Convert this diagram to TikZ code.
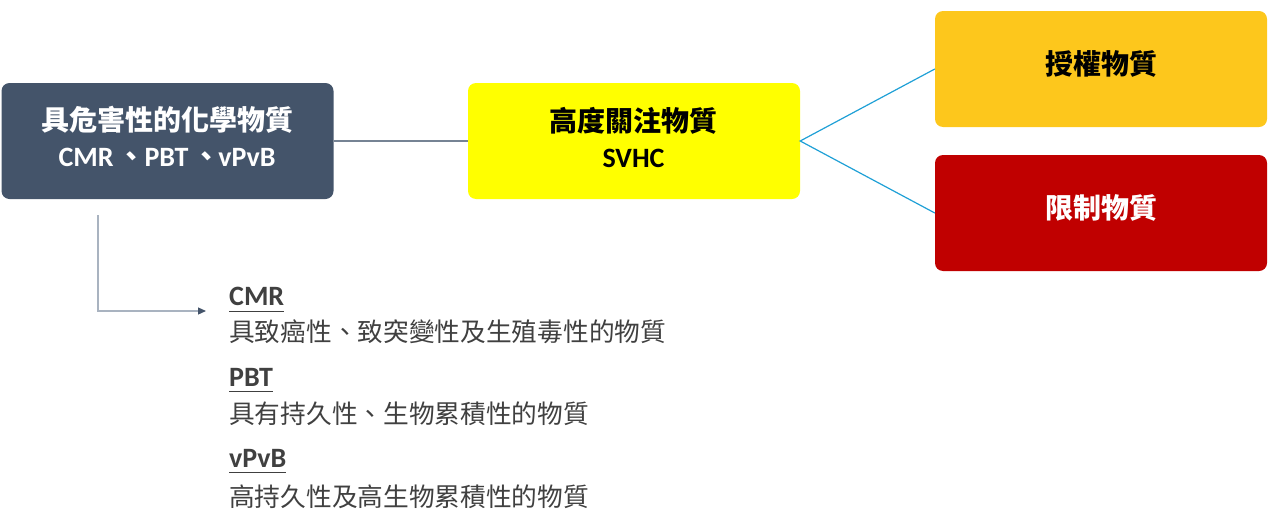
\documentclass[tikz,border=0pt]{standalone}
\usepackage{fontspec}
\setmainfont{Carlito}
\newfontfamily\cjk{Noto Sans CJK TC}
\usetikzlibrary{arrows.meta}
\definecolor{slate}{HTML}{44546A}
\definecolor{svhcY}{HTML}{FFFF00}
\definecolor{authO}{HTML}{FDC71C}
\definecolor{restrR}{HTML}{C00000}
\definecolor{linkB}{HTML}{1FA0D6}
\definecolor{txtG}{HTML}{404040}
\definecolor{lineG}{HTML}{768394}
\definecolor{elbowG}{HTML}{A9B3C0}
\begin{document}
\begin{tikzpicture}[x=1pt,y=-1pt,
  box/.style={rounded corners=8pt, minimum width=332pt, minimum height=116pt, inner sep=0pt},
  big/.style={inner sep=0pt, font=\fontsize{28}{28}\selectfont\cjk\bfseries},
  sub/.style={inner sep=0pt, font=\fontsize{28}{28}\selectfont\bfseries},
  hdr/.style={inner sep=0pt, anchor=west, text=txtG, font=\fontsize{28}{28}\selectfont\bfseries},
  body/.style={inner sep=0pt, anchor=west, text=txtG, font=\fontsize{25.7}{26}\selectfont\cjk},
  uline/.style={draw=txtG, line width=1.3pt},
]
\useasboundingbox (0,0) rectangle (1268,530);

\node[box, fill=slate] (haz) at (167.5,141) {};
\node[big, text=white] (hazT) at (167.5,120) {具危害性的化學物質};
\node[sub, text=white] (hazS) at (167,157.5) {CMR\hspace{4pt}{\cjk 、}\hspace{-1pt}PBT\hspace{4pt}{\cjk 、}\hspace{-2pt}vPvB};

\node[box, fill=svhcY] (svhc) at (634,141) {};
\node[big] (svhcT) at (633,121) {高度關注物質};
\node[sub] (svhcS) at (633.5,158) {SVHC};

\node[box, fill=authO] (auth) at (1101,69) {};
\node[big] (authT) at (1101,64) {授權物質};

\node[box, fill=restrR] (restr) at (1101,213) {};
\node[big, text=white] (restrT) at (1101,208) {限制物質};

\draw[lineG, line width=1.3pt] (haz.east) -- (svhc.west);
\draw[linkB, line width=1.2pt] (auth.west) -- (svhc.east) -- (restr.west);

\coordinate (eS) at (98,215);
\coordinate (eE) at (206,311);
\draw[elbowG, line width=1.2pt, -{Triangle[length=8pt,width=7pt,color=slate]}] (eS) |- (eE);

\node[hdr] (cmr) at (229,296.5) {CMR};
\draw[uline] ([yshift=-5.5pt]cmr.south west) -- ([yshift=-5.5pt]cmr.south east);
\node[body] (cmrB) at (229,332) {具致癌性、致突變性及生殖毒性的物質};

\node[hdr] (pbt) at (229,377) {PBT};
\draw[uline] ([yshift=-5.5pt]pbt.south west) -- ([yshift=-5.5pt]pbt.south east);
\node[body] (pbtB) at (229,414) {具有持久性、生物累積性的物質};

\node[hdr] (vpvb) at (229,458) {vPvB};
\draw[uline] ([yshift=-5.5pt]vpvb.south west) -- ([yshift=-5.5pt]vpvb.south east);
\node[body] (vpvbB) at (229,497) {高持久性及高生物累積性的物質};
\end{tikzpicture}
\end{document}
